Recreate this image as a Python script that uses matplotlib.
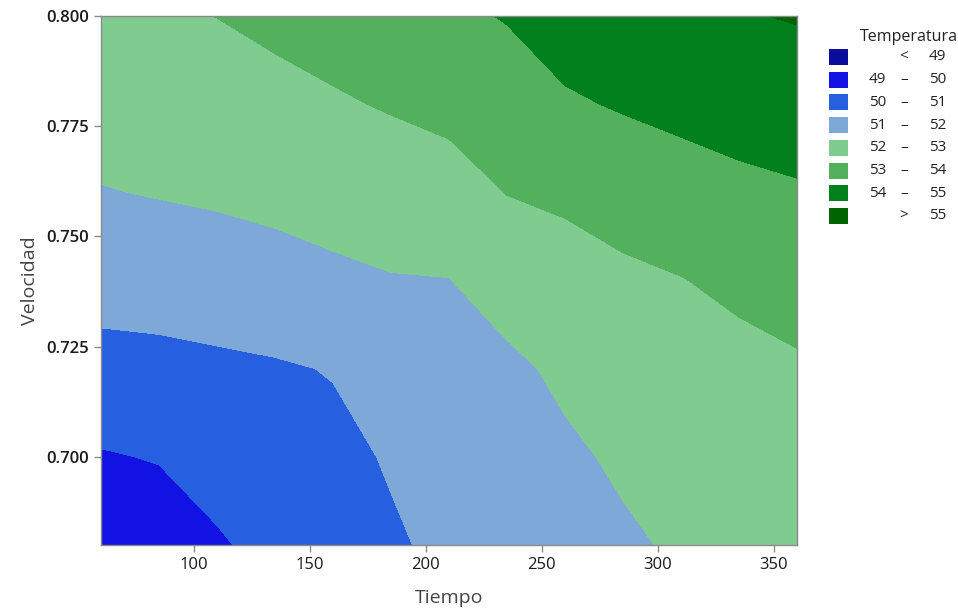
import matplotlib
matplotlib.use('Agg')
import numpy as np
import matplotlib.pyplot as plt
from matplotlib.patches import Rectangle

# Grid (Tiempo x Velocidad -> Temperatura)
tiempo = [60, 85, 110, 135, 160, 185, 210, 235, 260, 285, 310, 335, 360]
velocidad = [0.68, 0.70, 0.72, 0.74, 0.76, 0.78, 0.80]
# rows follow velocidad, columns follow tiempo
temperatura = [
    [49.10, 49.50, 49.90, 50.27, 50.59, 50.90, 51.17, 51.41, 51.64, 51.86, 52.12, 52.20, 52.30],
    [49.93, 50.05, 50.35, 50.56, 50.79, 51.07, 51.28, 51.60, 51.84, 52.14, 52.38, 52.45, 52.55],
    [50.69, 50.74, 50.83, 50.91, 51.04, 51.51, 51.64, 51.80, 52.18, 52.48, 52.62, 52.72, 52.88],
    [51.36, 51.41, 51.49, 51.62, 51.81, 51.95, 51.98, 52.42, 52.64, 52.83, 52.97, 53.20, 53.40],
    [51.96, 52.05, 52.14, 52.26, 52.38, 52.50, 52.62, 53.02, 53.15, 53.37, 53.60, 53.79, 53.91],
    [52.38, 52.47, 52.57, 52.73, 52.90, 53.07, 53.25, 53.55, 53.88, 54.08, 54.24, 54.37, 54.47],
    [52.79, 52.89, 53.01, 53.20, 53.38, 53.60, 53.82, 54.05, 54.45, 54.65, 54.75, 54.94, 55.06],
]

niveles = [40, 49, 50, 51, 52, 53, 54, 55, 60]
colores = ['#0c0c9c', '#1212e4', '#2660e0', '#7da8d8',
           '#80cc90', '#53b05c', '#02801e', '#006400']
etiq_bajo = ['', '49', '50', '51', '52', '53', '54', '']
etiq_alto = ['49', '50', '51', '52', '53', '54', '55', '55']
etiq_sep = ['<', '\u2013', '\u2013', '\u2013', '\u2013', '\u2013', '\u2013', '>']

plt.rcParams['font.family'] = ['Open Sans', 'DejaVu Sans']

fig = plt.figure(figsize=(9.58, 6.15), dpi=100)
ax = fig.add_axes([0.1054, 0.114, 0.7265, 0.860])

X, Y = np.meshgrid(tiempo, velocidad)
ax.contourf(X, Y, np.array(temperatura), levels=niveles, colors=colores)

ax.set_xlim(60, 360)
ax.set_ylim(0.68, 0.80)
ax.set_xticks([100, 150, 200, 250, 300, 350])
ax.set_yticks([0.700, 0.725, 0.750, 0.775, 0.800])
ax.set_yticklabels(['0.700', '0.725', '0.750', '0.775', '0.800'], fontweight='semibold')
ax.tick_params(colors='#8a8a8a', labelcolor='#1a1a1a', labelsize=12, length=5, width=1)
for s in ax.spines.values():
    s.set_color('#8a8a8a')
    s.set_linewidth(1)

ax.set_xlabel('Tiempo', fontsize=14, color='#444444', labelpad=12)
ax.set_ylabel('Velocidad', fontsize=14, color='#444444', labelpad=5)

# legend drawn by hand to keep the column alignment
fig.text(860 / 958, 1 - 37 / 615, 'Temperatura', fontsize=11.5, color='#222222', va='center', ha='left')
for i in range(len(colores)):
    yc = 1 - (57 + i * 22.7) / 615
    fig.patches.append(Rectangle((829 / 958, yc - 8 / 615), 19 / 958, 16 / 615,
                                 transform=fig.transFigure, facecolor=colores[i], edgecolor='none'))
    if etiq_bajo[i]:
        fig.text(886 / 958, yc, etiq_bajo[i], fontsize=11, color='#222222', ha='right', va='center')
    fig.text(904 / 958, yc, etiq_sep[i], fontsize=11, color='#222222', ha='center', va='center')
    fig.text(946 / 958, yc, etiq_alto[i], fontsize=11, color='#222222', ha='right', va='center')

fig.savefig('out.png', dpi=100)
